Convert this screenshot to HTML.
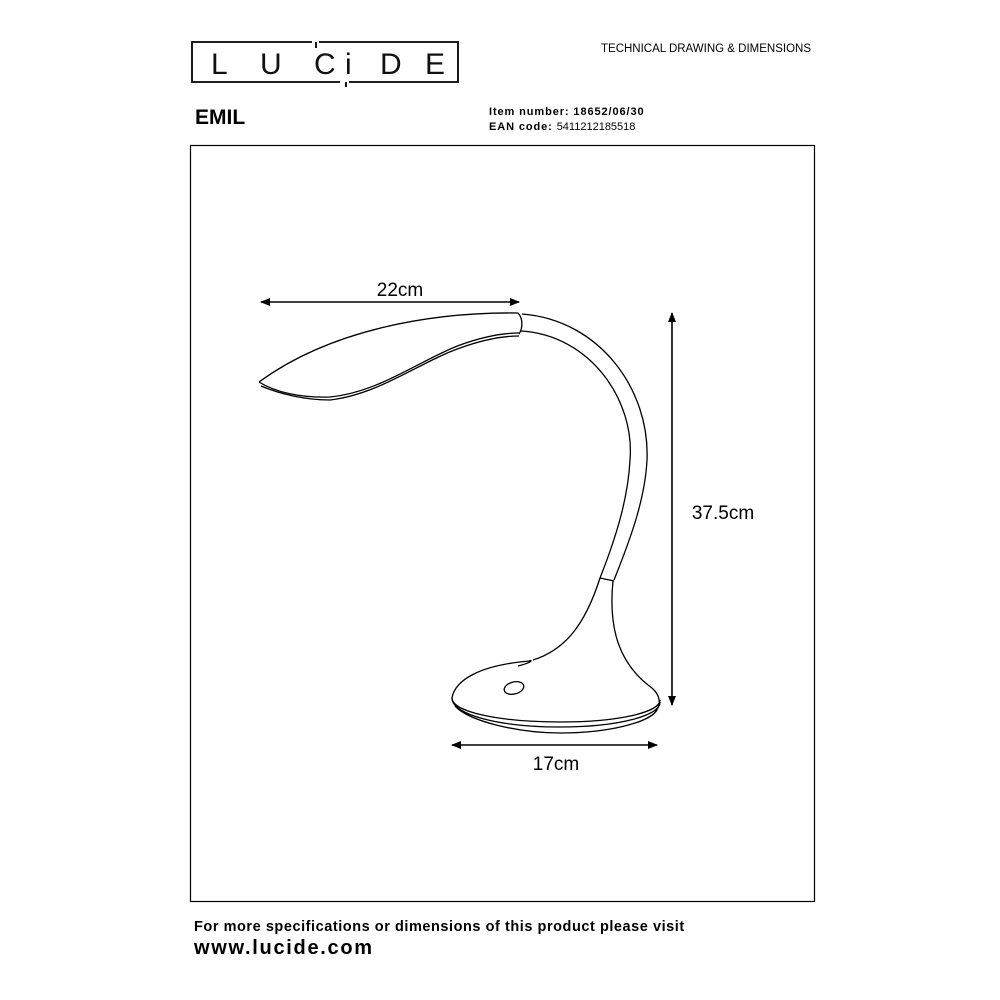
<!DOCTYPE html>
<html><head><style>
body{margin:0;background:#fff;}
svg{display:block}
text{font-family:"Liberation Sans",sans-serif;}
</style></head><body>
<svg width="1000" height="1000" viewBox="0 0 1000 1000">
<defs><marker id="a" markerWidth="10" markerHeight="8" refX="9" refY="4" orient="auto-start-reverse" markerUnits="userSpaceOnUse"><path d="M0,0L10,4L0,8z" fill="#000"/></marker></defs>
<!-- logo -->
<path d="M312,42H192V82H340 M346,82V87 M349,82H458V42H319 M316,42V48" fill="none" stroke="#000" stroke-width="1.8"/>
<g font-size="30" fill="#111">
<text x="211" y="74">L</text><text x="260" y="74">U</text><text x="314" y="74">C</text><text x="345" y="74">i</text><text x="380" y="74">D</text><text x="425" y="74">E</text>
</g>
<text x="811" y="52" font-size="11.5" text-anchor="end">TECHNICAL DRAWING &amp; DIMENSIONS</text>
<text x="195" y="124" font-size="21" font-weight="bold">EMIL</text>
<text x="489" y="115" font-size="11" font-weight="bold" letter-spacing="0.9">Item number: 18652/06/30</text>
<text x="489" y="130" font-size="11" font-weight="bold" letter-spacing="0.9">EAN code: <tspan font-weight="normal" letter-spacing="0">5411212185518</tspan></text>
<rect x="190.5" y="145.5" width="624" height="756" fill="none" stroke="#000" stroke-width="1.2"/>
<!-- dimensions -->
<line x1="261" y1="302" x2="519" y2="302" stroke="#000" stroke-width="1.6" marker-start="url(#a)" marker-end="url(#a)"/>
<text x="400" y="296" font-size="19" text-anchor="middle">22cm</text>
<line x1="672" y1="313" x2="672" y2="705" stroke="#000" stroke-width="1.6" marker-start="url(#a)" marker-end="url(#a)"/>
<text x="723" y="519" font-size="19" text-anchor="middle">37.5cm</text>
<line x1="452" y1="745" x2="657" y2="745" stroke="#000" stroke-width="1.6" marker-start="url(#a)" marker-end="url(#a)"/>
<text x="556" y="770" font-size="19" text-anchor="middle">17cm</text>
<!-- lamp -->
<g fill="none" stroke="#000" stroke-width="1.3">
<path d="M259,382 C330,330 430,312 518,313"/>
<path d="M259,382 C275,392 300,398 330,397 C380,392 420,360 460,345 C485,336 505,333 519,333"/>
<path d="M261,386 C280,394 305,400 330,400 C380,394 420,362 460,348 C485,339 505,336 519,336"/>
<path d="M518,313 C523,318 523,328 519,334"/>
<path d="M522,314 C600,320 650,390 647,460 C645,500 630,540 614,580"/>
<path d="M521,331 C590,335 635,400 630,460 C628,500 615,540 600,578"/>
<path d="M600,578 L614,581"/>
<path d="M613,581 C608,630 620,665 652,688 C660,695 662,705 655,712"/>
<path d="M600,578 C585,625 565,650 533,660"/>
<path d="M518,666 C540,660 527,660 530,661 C480,665 455,680 452,698 C452,712 500,722 560,722 C620,722 660,712 660,700"/>
<path d="M452,698 C452,715 500,727 560,727 C620,727 661,715 660,702"/>
<path d="M455,706 C470,722 520,733 560,733 C610,733 650,722 657,710"/>
<ellipse cx="514" cy="688" rx="10" ry="6" transform="rotate(-15 514 688)"/>
</g>
<text x="194" y="931" font-size="14.5" font-weight="bold" letter-spacing="0.55">For more specifications or dimensions of this product please visit</text>
<text x="194" y="954" font-size="20" font-weight="bold" letter-spacing="1.7">www.lucide.com</text>
</svg>
</body></html>
